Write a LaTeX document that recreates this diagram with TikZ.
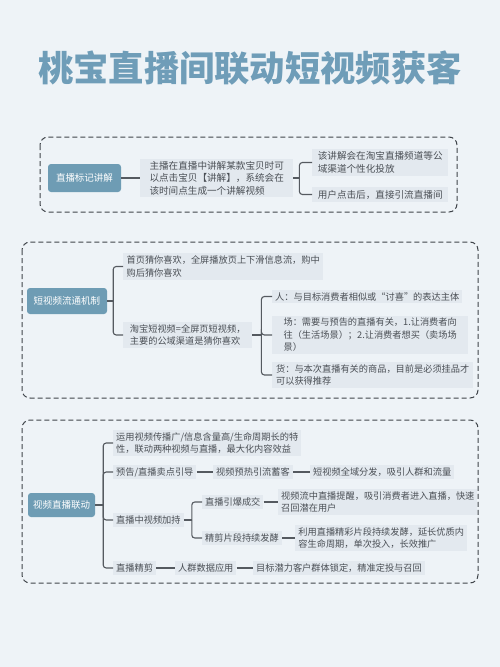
\documentclass[tikz,border=0pt]{standalone}
\usepackage{fontspec}
\newfontfamily\cjk{Noto Sans CJK SC}
\definecolor{bgblue}{HTML}{EEF3F7}
\definecolor{leafgray}{HTML}{E3E9EF}
\definecolor{rootblue}{HTML}{6E9CB4}
\definecolor{titleblue}{HTML}{6F9DB8}
\definecolor{linegray}{HTML}{555A60}
\definecolor{dashgray}{HTML}{3F444A}
\definecolor{textgray}{HTML}{4A4F55}
\tikzset{
  root/.style={fill=rootblue, rounded corners=3pt, text=white, inner sep=2pt,
    font=\cjk\fontsize{9.5}{11}\selectfont},
  leaf/.style={fill=leafgray, anchor=west, align=left, text=textgray, inner xsep=3pt, inner ysep=2.5pt,
    font=\cjk\fontsize{9.2}{12.5}\selectfont},
  bigleaf/.style={leaf, font=\cjk\fontsize{9.6}{12.5}\selectfont},
  branch/.style={draw=linegray, line width=1.1pt, rounded corners=3pt},
  group/.style={draw=dashgray, line width=1pt, dash pattern=on 5pt off 3pt, rounded corners=8pt}
}
\begin{document}
\begin{tikzpicture}[x=1pt, y=-1pt]
    \useasboundingbox (0,0) rectangle (500,667);
    \fill[bgblue] (0,0) rectangle (500,667);

    % title
    \node[text=titleblue, font=\cjk\fontsize{35.3}{40}\selectfont\bfseries] (title) at (250,68) {桃宝直播间联动短视频获客};

    % 1. 直播标记讲解
    \draw[group] (40,137) rectangle (457,212);
    \node[root, minimum width=73pt, minimum height=28pt] (r1) at (84.5,178) {直播标记讲解};
    \node[bigleaf, minimum width=153pt] (a1) at (140,178) {主播在直播中讲解某款宝贝时可\\以点击宝贝【讲解】，系统会在\\该时间点生成一个讲解视频};
    \node[bigleaf, minimum width=136pt] (b1) at (312,162.5) {该讲解会在淘宝直播频道等公\\域渠道个性化投放};
    \node[bigleaf, minimum width=136pt] (b2) at (312,194.5) {用户点击后，直接引流直播间};
    \draw[branch] (r1) -- (a1);
    \coordinate (j1) at ([xshift=6pt]a1.east);
    \draw[branch] (a1) -- (j1);
    \foreach \k in {b1,b2}
        \draw[branch] (j1) |- (\k.west);

    % 2. 短视频流通机制
    \draw[group] (22,242) rectangle (478,398);
    \node[root, minimum width=80pt, minimum height=26pt] (r2) at (67,301) {短视频流通机制};
    \node[leaf, minimum width=200pt] (c1) at (123,266.5) {首页猜你喜欢，全屏播放页上下滑信息流，购中\\购后猜你喜欢};
    \node[leaf, minimum width=129pt] (c2) at (123,335) {淘宝短视频=全屏页短视频，\\主要的公域渠道是猜你喜欢};
    \coordinate (j2) at ([xshift=6pt]r2.east);
    \draw[branch] (r2) -- (j2);
    \foreach \k in {c1,c2}
        \draw[branch] (j2) |- (\k.west);

    \node[leaf, minimum width=180pt] (d1) at (272,296.5) {人：与目标消费者相似或“讨喜”的表达主体};
    \node[leaf, minimum width=196pt] (d2) at (272,335) {场：需要与预告的直播有关，1.让消费者向\\往（生活场景）；2.让消费者想买（卖场场\\景）};
    \node[leaf, minimum width=201pt] (d3) at (272,375) {货：与本次直播有关的商品，目前是必须挂品才\\可以获得推荐};
    \coordinate (j3) at ([xshift=9pt]c2.east);
    \draw[branch] (c2) -- (j3);
    \foreach \k in {d1,d2,d3}
        \draw[branch] (j3) |- (\k.west);

    % 3. 视频直播联动
    \draw[group] (22,420) rectangle (478,583);
    \node[root, minimum width=67pt, minimum height=24pt] (r3) at (61.5,505) {视频直播联动};
    \node[leaf] (e1) at (113,443) {运用视频传播广/信息含量高/生命周期长的特\\性，联动两种视频与直播，最大化内容效益};
    \node[leaf] (e2) at (113,472) {预告/直播卖点引导};
    \node[leaf] (e3) at (113,520) {直播中视频加持};
    \node[leaf] (e4) at (113,568) {直播精剪};
    \coordinate (j4) at ([xshift=8pt]r3.east);
    \draw[branch] (r3) -- (j4);
    \foreach \k in {e1,e2,e3,e4}
        \draw[branch] (j4) |- (\k.west);

    % 预告
    \node[leaf] (f2) at (213,472) {视频预热引流蓄客};
    \node[leaf] (g2) at (310,472) {短视频全域分发，吸引人群和流量};
    \draw[branch] (e2) -- (f2);
    \draw[branch] (f2) -- (g2);

    % 直播中视频加持
    \node[leaf] (f3) at (202,502) {直播引爆成交};
    \node[leaf, minimum width=194pt] (g3) at (278,502) {视频流中直播提醒，吸引消费者进入直播，快速\\召回潜在用户};
    \node[leaf] (f4) at (202,538) {精剪片段持续发酵};
    \node[leaf, minimum width=172pt] (g4) at (295,538) {利用直播精彩片段持续发酵，延长优质内\\容生命周期，单次投入，长效推广};
    \coordinate (j5) at ([xshift=8pt]e3.east);
    \draw[branch] (e3) -- (j5);
    \foreach \k in {f3,f4}
        \draw[branch] (j5) |- (\k.west);
    \draw[branch] (f3) -- (g3);
    \draw[branch] (f4) -- (g4);

    % 直播精剪
    \node[leaf] (f5) at (175,568) {人群数据应用};
    \node[leaf] (g5) at (253,568) {目标潜力客户群体锁定，精准定投与召回};
    \draw[branch] (e4) -- (f5);
    \draw[branch] (f5) -- (g5);
\end{tikzpicture}
\end{document}
